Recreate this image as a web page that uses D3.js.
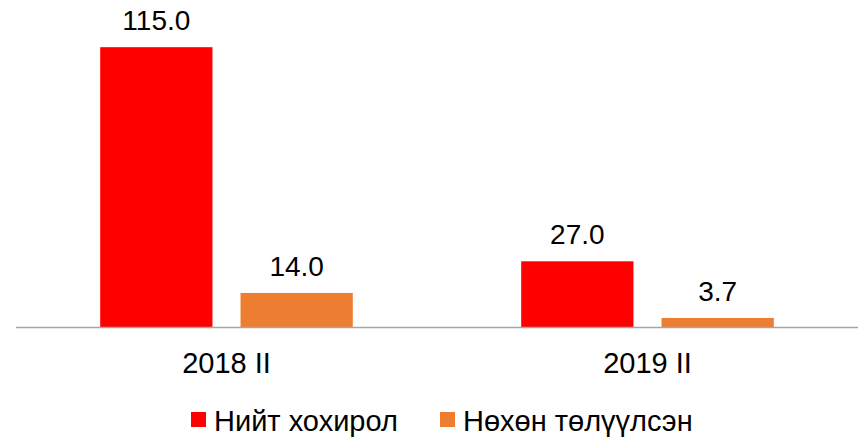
<!DOCTYPE html>
<html>
<head>
<meta charset="utf-8">
<script src="https://cdn.jsdelivr.net/npm/d3@7"></script>
<style>
  body { margin: 0; background: #fff; }
  text { font-family: "Liberation Sans", Arial, sans-serif; fill: #000; }
</style>
</head>
<body>
<div id="chart"></div>
<script>
// data
const categories = ["2018 II", "2019 II"];
const seriesNames = ["Нийт хохирол", "Нөхөн төлүүлсэн"];
const totalLoss = [115.0, 27.0];
const compensated = [14.0, 3.7];
const colors = ["#ff0000", "#ed7d31"];

const width = 862, height = 439;
const baseY = 327;

const svg = d3.select("#chart").append("svg")
    .attr("width", width)
    .attr("height", height);

const x0 = d3.scaleBand().domain(categories).range([16, 858]);
const x1 = d3.scaleBand().domain(seriesNames)
    .range([0, x0.bandwidth()])
    .paddingInner(0.2)
    .paddingOuter(0.6);
const y = d3.scaleLinear().domain([0, 120]).range([baseY, 35]);

const rows = categories.map((c, i) => ({
    cat: c,
    vals: [
        {name: seriesNames[0], v: totalLoss[i], color: colors[0]},
        {name: seriesNames[1], v: compensated[i], color: colors[1]}
    ]
}));

const g = svg.selectAll("g.cat").data(rows).enter().append("g")
    .attr("class", "cat")
    .attr("transform", d => "translate(" + x0(d.cat) + ",0)");

g.selectAll("rect").data(d => d.vals).enter().append("rect")
    .attr("x", d => x1(d.name))
    .attr("width", x1.bandwidth())
    .attr("y", d => y(d.v))
    .attr("height", d => baseY - y(d.v))
    .attr("fill", d => d.color);

g.selectAll("text.val").data(d => d.vals).enter().append("text")
    .attr("class", "val")
    .attr("x", d => x1(d.name) + x1.bandwidth() / 2)
    .attr("y", d => y(d.v) - 17)
    .attr("text-anchor", "middle")
    .style("font-size", "28px")
    .text(d => d.v.toFixed(1));

// axis line
svg.append("line")
    .attr("x1", 16).attr("x2", 858)
    .attr("y1", baseY + 0.5).attr("y2", baseY + 0.5)
    .attr("stroke", "#a6a6a6")
    .attr("stroke-width", 1.5);

svg.selectAll("text.cat").data(categories).enter().append("text")
    .attr("class", "cat")
    .attr("x", d => x0(d) + x0.bandwidth() / 2)
    .attr("y", 373)
    .attr("text-anchor", "middle")
    .style("font-size", "29px")
    .text(d => d);

// legend
const legendX = [191, 440];
const lg = svg.selectAll("g.legend").data(seriesNames).enter().append("g")
    .attr("class", "legend")
    .attr("transform", (d, i) => "translate(" + legendX[i] + ",0)");
lg.append("rect")
    .attr("x", 0).attr("y", 412)
    .attr("width", 15).attr("height", 15)
    .attr("fill", (d, i) => colors[i]);
lg.append("text")
    .attr("x", 23).attr("y", 431)
    .style("font-size", "29px")
    .text(d => d);
</script>
</body>
</html>
